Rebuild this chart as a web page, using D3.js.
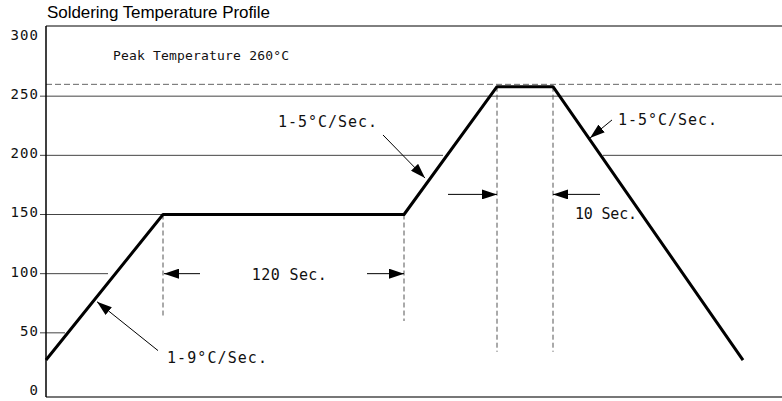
<!DOCTYPE html>
<html>
<head>
<meta charset="utf-8">
<script src="https://cdn.jsdelivr.net/npm/d3@7"></script>
<style>
  body { margin: 0; background: #fff; }
  svg { display: block; }
  .note { font-family: "DejaVu Sans Mono", monospace; fill: #111; }
</style>
</head>
<body>
<div id="chart"></div>
<script>
// Schematic profile: time in nominal seconds, temperature in °C
const profileTime = [0, 58.5, 179, 225.5, 253.5, 348.5];
const profileTemp = [27, 150, 150, 258, 258, 27];

const yTicks = [0, 50, 100, 150, 200, 250, 300];
const peakTemp = 260;

// horizontal grid pieces (temp, from time, to time)
const gridTemp = [250, 200, 200, 150, 100, 50];
const gridFrom = [-3, -3, 278.5, -3, -3, -3];
const gridTo = [368, 198.5, 368, 58.5, 31, 9.5];

// dashed drop lines under the profile corners
const guideTime = [58.5, 179, 225.5, 253.5];
const guideTop = [150, 150, 258, 258];
const guideBottom = [62.5, 60, 34, 34];

const labels = ["Peak Temperature 260°C", "1-5°C/Sec.", "1-5°C/Sec.", "120 Sec.", "10 Sec.", "1-9°C/Sec."];

const W = 782, H = 401;
const plotLeft = 46, plotTop = 26, plotBottom = 397;

const svg = d3.select("#chart").append("svg")
  .attr("width", W)
  .attr("height", H);

const x = d3.scaleLinear().domain([0, 368]).range([plotLeft, W]);
const y = d3.scaleLinear().domain([0, 300]).range([392, 37]);

// arrowhead
svg.append("defs").append("marker")
  .attr("id", "head")
  .attr("viewBox", "0 0 15 10")
  .attr("refX", 15)
  .attr("refY", 5)
  .attr("markerWidth", 15)
  .attr("markerHeight", 10)
  .attr("markerUnits", "userSpaceOnUse")
  .attr("orient", "auto")
  .append("path")
  .attr("d", "M0,0L15,5L0,10Z")
  .attr("fill", "#000");

// title
svg.append("text")
  .attr("x", 47)
  .attr("y", 18)
  .attr("font-family", "Liberation Sans, Arial, sans-serif")
  .attr("font-size", 17)
  .attr("textLength", 223)
  .attr("lengthAdjust", "spacing")
  .text("Soldering Temperature Profile");

// grid pieces
const grid = gridTemp.map((v, i) => ({ v, a: gridFrom[i], b: gridTo[i] }));
svg.append("g").selectAll("line")
  .data(grid)
  .join("line")
  .attr("x1", d => x(d.a))
  .attr("x2", d => x(d.b))
  .attr("y1", d => y(d.v))
  .attr("y2", d => y(d.v))
  .attr("stroke", "#444")
  .attr("stroke-width", 1);

// peak temperature dashed line
svg.append("line")
  .attr("x1", x(0))
  .attr("x2", W)
  .attr("y1", y(peakTemp))
  .attr("y2", y(peakTemp))
  .attr("stroke", "#666")
  .attr("stroke-dasharray", "6,3");

// drop lines
const guides = guideTime.map((t, i) => ({ t, top: guideTop[i], bottom: guideBottom[i] }));
svg.append("g").selectAll("line")
  .data(guides)
  .join("line")
  .attr("x1", d => x(d.t))
  .attr("x2", d => x(d.t))
  .attr("y1", d => y(d.top))
  .attr("y2", d => y(d.bottom))
  .attr("stroke", "#555")
  .attr("stroke-dasharray", "5,3");

// frame
svg.append("line")
  .attr("x1", plotLeft).attr("x2", W)
  .attr("y1", plotTop).attr("y2", plotTop)
  .attr("stroke", "#000");
svg.append("line")
  .attr("x1", plotLeft).attr("x2", W)
  .attr("y1", plotBottom).attr("y2", plotBottom)
  .attr("stroke", "#777")
  .attr("stroke-width", 2);
svg.append("line")
  .attr("x1", plotLeft).attr("x2", plotLeft)
  .attr("y1", plotTop).attr("y2", plotBottom)
  .attr("stroke", "#000")
  .attr("stroke-width", 1.5);

// y axis labels
const yAxis = svg.append("g")
  .attr("transform", `translate(${plotLeft},0)`)
  .call(d3.axisLeft(y).tickValues(yTicks).tickSize(0).tickPadding(8));
yAxis.select(".domain").remove();
yAxis.selectAll("text")
  .attr("font-family", "DejaVu Sans Mono, monospace")
  .attr("font-size", 14)
  .attr("fill", "#111")
  .attr("dy", "0.32em")
  .attr("y", -2)
  .each(function (d) {
    const n = String(d).length;
    if (n > 1) d3.select(this).attr("textLength", n * 9.5 - 1).attr("lengthAdjust", "spacing");
  });

// profile
const profile = profileTime.map((t, i) => [t, profileTemp[i]]);
svg.append("path")
  .datum(profile)
  .attr("d", d3.line().x(d => x(d[0])).y(d => y(d[1])))
  .attr("fill", "none")
  .attr("stroke", "#000")
  .attr("stroke-width", 3)
  .attr("stroke-linejoin", "round");

// arrows
const arrows = [
  [[77, 100], [59, 100]],
  [[160.5, 100], [179, 100]],
  [[201, 167], [225.5, 167]],
  [[277, 167], [253.5, 167]],
  [[56, 35], [25.5, 76.3]],
  [[168.5, 217.2], [189.5, 180.8]],
  [[283, 229.9], [272, 214.7]]
];
svg.append("g").selectAll("line")
  .data(arrows)
  .join("line")
  .attr("x1", d => x(d[0][0]))
  .attr("y1", d => y(d[0][1]))
  .attr("x2", d => x(d[1][0]))
  .attr("y2", d => y(d[1][1]))
  .attr("stroke", "#000")
  .attr("stroke-width", 1)
  .attr("marker-end", "url(#head)");

// annotation text (start time, temp at text middle, size, width)
const notes = [
  { t: 33.5, v: 284.8, size: 13, len: 176 },
  { t: 116, v: 228.4, size: 15, len: 99 },
  { t: 286, v: 230, size: 15, len: 99 },
  { t: 102.9, v: 99.5, size: 15, len: 75 },
  { t: 264.5, v: 151, size: 15, len: 62 },
  { t: 60.5, v: 28.7, size: 15, len: 100 }
];
svg.append("g").selectAll("text")
  .data(notes)
  .join("text")
  .attr("class", "note")
  .attr("x", d => x(d.t))
  .attr("y", d => y(d.v))
  .attr("dy", "0.36em")
  .attr("font-size", d => d.size)
  .attr("textLength", d => d.len)
  .attr("lengthAdjust", "spacing")
  .text((d, i) => labels[i]);
</script>
</body>
</html>
